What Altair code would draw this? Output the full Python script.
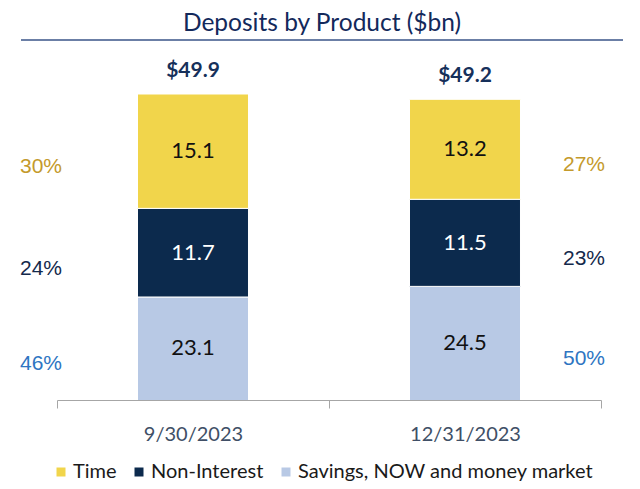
import altair as alt
import pandas as pd

# ---- data ----
dates = ["9/30/2023", "12/31/2023"]
categories = ["Savings, NOW and money market", "Non-Interest", "Time"]
savings = [23.1, 24.5]
non_interest = [11.7, 11.5]
time_dep = [15.1, 13.2]
pct_left = ["46%", "24%", "30%"]   # 9/30/2023 shares (savings, non-interest, time)
pct_right = ["50%", "23%", "27%"]  # 12/31/2023 shares
totals = [49.9, 49.2]

Y_MIN = 9.5
Y_MAX = 49.9

colors = {"Time": "#f1d54b", "Non-Interest": "#0c2a4d", "Savings, NOW and money market": "#b8c9e5"}
pct_colors = {"Time": "#c49a2c", "Non-Interest": "#14294b", "Savings, NOW and money market": "#2e75c2"}

series = {"Savings, NOW and money market": savings, "Non-Interest": non_interest, "Time": time_dep}

rows = []
for i, d in enumerate(dates):
    start = 0.0
    for j, c in enumerate(categories):
        v = series[c][i]
        end = start + v
        mid = (max(start, Y_MIN) + end) / 2
        rows.append({
            "date": d, "cat": c, "value": v, "start": start, "end": end, "mid": mid,
            "label": f"{v:.1f}",
            "pct": (pct_left if i == 0 else pct_right)[j],
            "side": "left" if i == 0 else "right",
            "order": j,
        })
        start = end
df = pd.DataFrame(rows)
tot_df = pd.DataFrame({"date": dates, "total": totals, "label": [f"${t:.1f}" for t in totals]})

FONT = "Lato"
W, H = 544, 306

x_enc = alt.X("date:N", sort=dates,
              scale=alt.Scale(paddingInner=0, paddingOuter=0),
              axis=alt.Axis(title=None, labelAngle=0, labelFont=FONT, labelFontSize=20,
                            labelColor="#404f66", domainColor="#a6a6a6", tickColor="#a6a6a6",
                            tickSize=8, tickBand="extent", labelPadding=16, grid=False))
y_scale = alt.Scale(domain=[Y_MIN, Y_MAX], nice=False, zero=False)

bars = alt.Chart(df).mark_bar(clip=True, width=alt.RelativeBandSize(0.408),
                              stroke="white", strokeWidth=1).encode(
    x=x_enc,
    y=alt.Y("start:Q", scale=y_scale, axis=None),
    y2="end:Q",
    color=alt.Color("cat:N",
                    scale=alt.Scale(domain=["Time", "Non-Interest", "Savings, NOW and money market"],
                                    range=[colors["Time"], colors["Non-Interest"],
                                           colors["Savings, NOW and money market"]]),
                    legend=alt.Legend(title=None, orient="none", direction="horizontal",
                                      legendX=-6, legendY=368, symbolType="square",
                                      symbolSize=81, symbolStrokeWidth=0,
                                      labelFont=FONT, labelFontSize=20, labelColor="#1a1a1a",
                                      labelLimit=0, labelOffset=2, columnPadding=12, padding=0)),
)

seg_text = alt.Chart(df).mark_text(font=FONT, fontSize=22).encode(
    x=alt.X("date:N", sort=dates),
    y=alt.Y("mid:Q", scale=y_scale),
    text="label:N",
    color=alt.condition(alt.datum.cat == "Non-Interest", alt.value("white"), alt.value("#111111")),
)

tot_text = alt.Chart(tot_df).mark_text(font=FONT, fontSize=21, fontWeight="bold",
                                       color="#16305a", baseline="alphabetic", dy=-17).encode(
    x=alt.X("date:N", sort=dates),
    y=alt.Y("total:Q", scale=y_scale),
    text="label:N",
)

left_pct = alt.Chart(df[df.side == "left"]).mark_text(
    font="Liberation Sans", fontSize=21, dy=16).encode(
    x=alt.value(-16),
    y=alt.Y("mid:Q", scale=y_scale),
    text="pct:N",
    color=alt.Color("cat:N", scale=alt.Scale(domain=list(pct_colors.keys()),
                                             range=list(pct_colors.values())), legend=None),
)
right_pct = alt.Chart(df[df.side == "right"]).mark_text(
    font="Liberation Sans", fontSize=21, dy=16).encode(
    x=alt.value(527),
    y=alt.Y("mid:Q", scale=y_scale),
    text="pct:N",
    color=alt.Color("cat:N", scale=alt.Scale(domain=list(pct_colors.keys()),
                                             range=list(pct_colors.values())), legend=None),
)

title_df = pd.DataFrame({"t": ["Deposits by Product ($bn)"]})
title = alt.Chart(title_df).mark_text(font=FONT, fontSize=24.5, color="#13295b",
                                      baseline="alphabetic").encode(
    x=alt.value(265), y=alt.value(-63), text="t:N")
title_rule = alt.Chart(title_df).mark_rule(color="#6b7fa6", strokeWidth=2).encode(
    x=alt.value(-36), x2=alt.value(566), y=alt.value(-54))

chart = alt.layer(bars, seg_text, tot_text, left_pct, right_pct, title, title_rule).resolve_scale(
    color="independent"
).properties(
    width=W, height=H,
    autosize=alt.AutoSizeParams(type="none"),
    padding={"left": 49, "top": 86, "right": 31, "bottom": 81},
).configure_view(stroke=None)

chart.save("out.html", embed_options={"renderer": "svg", "actions": False})
